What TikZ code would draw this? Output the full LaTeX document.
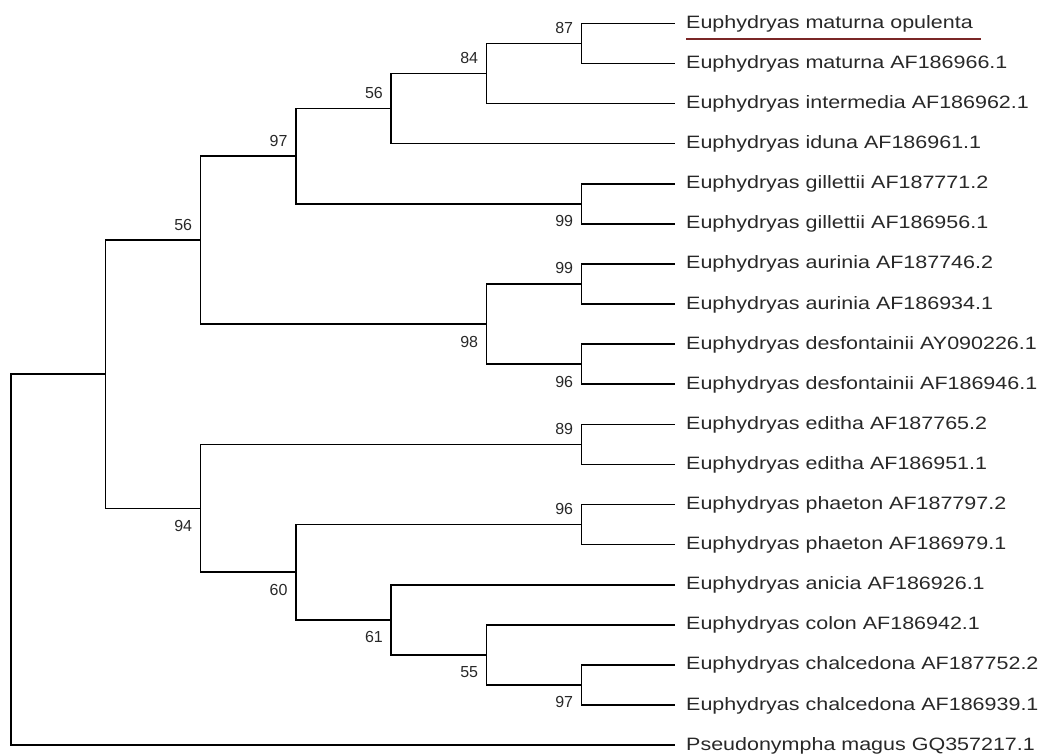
\documentclass[tikz,border=0pt]{standalone}
\usepackage{fontspec}
\setmainfont{Liberation Sans}
\newfontfamily\leaffont[FakeStretch=1.2]{Liberation Sans}
\definecolor{linkred}{RGB}{122,38,38}
\definecolor{textgray}{RGB}{40,40,40}
\tikzset{
  branch/.style={line width=1.6pt, black},
  leaf/.style={anchor=base west, inner sep=0pt, text=textgray,
    font=\leaffont\fontsize{17.9}{20}\selectfont},
  bootup/.style={anchor=east, inner sep=0pt, yshift=15.5pt, xshift=-8pt,
    text=textgray, font=\fontsize{16}{18}\selectfont},
  bootdown/.style={anchor=east, inner sep=0pt, yshift=-17.5pt, xshift=-8pt,
    text=textgray, font=\fontsize{16}{18}\selectfont}
}
\begin{document}
\begin{tikzpicture}[x=1pt, y=-1pt]
                    \useasboundingbox (0,0) rectangle (1043,755);

                    % Marking leaf tips
                    \coordinate (t0) at (675,23.3);
                    \coordinate (t1) at (675,63.4);
                    \coordinate (t2) at (675,103.5);
                    \coordinate (t3) at (675,143.6);
                    \coordinate (t4) at (675,183.7);
                    \coordinate (t5) at (675,223.8);
                    \coordinate (t6) at (675,263.9);
                    \coordinate (t7) at (675,304.0);
                    \coordinate (t8) at (675,344.1);
                    \coordinate (t9) at (675,384.2);
                    \coordinate (t10) at (675,424.3);
                    \coordinate (t11) at (675,464.4);
                    \coordinate (t12) at (675,504.5);
                    \coordinate (t13) at (675,544.6);
                    \coordinate (t14) at (675,584.7);
                    \coordinate (t15) at (675,624.8);
                    \coordinate (t16) at (675,664.9);
                    \coordinate (t17) at (675,705.0);
                    \coordinate (t18) at (675,745.1);

                    % Marking inner nodes
                    \coordinate (n87) at (581.3,43.35);
                    \coordinate (n84) at (486.3,73.43);
                    \coordinate (n56a) at (391.0,108.5);
                    \coordinate (n99g) at (581.3,203.75);
                    \coordinate (n97) at (295.7,156.1);
                    \coordinate (n99a) at (581.3,283.95);
                    \coordinate (n96d) at (581.3,364.15);
                    \coordinate (n98) at (486.3,324.05);
                    \coordinate (n56b) at (200.3,240.1);
                    \coordinate (n89) at (581.3,444.35);
                    \coordinate (n96p) at (581.3,524.55);
                    \coordinate (n97c) at (581.3,684.95);
                    \coordinate (n55) at (486.3,654.9);
                    \coordinate (n61) at (391.0,619.8);
                    \coordinate (n60) at (295.7,572.2);
                    \coordinate (n94) at (200.3,508.3);
                    \coordinate (n1) at (105.3,374.2);
                    \coordinate (root) at (10.7,559.65);

                    % Drawing branches
                    \draw [branch] (n87) |- (t0);
                    \draw [branch] (n87) |- (t1);
                    \draw [branch] (n84) |- (n87);
                    \draw [branch] (n84) |- (t2);
                    \draw [branch] (n56a) |- (n84);
                    \draw [branch] (n56a) |- (t3);
                    \draw [branch] (n99g) |- (t4);
                    \draw [branch] (n99g) |- (t5);
                    \draw [branch] (n97) |- (n56a);
                    \draw [branch] (n97) |- (n99g);
                    \draw [branch] (n99a) |- (t6);
                    \draw [branch] (n99a) |- (t7);
                    \draw [branch] (n96d) |- (t8);
                    \draw [branch] (n96d) |- (t9);
                    \draw [branch] (n98) |- (n99a);
                    \draw [branch] (n98) |- (n96d);
                    \draw [branch] (n56b) |- (n97);
                    \draw [branch] (n56b) |- (n98);
                    \draw [branch] (n89) |- (t10);
                    \draw [branch] (n89) |- (t11);
                    \draw [branch] (n96p) |- (t12);
                    \draw [branch] (n96p) |- (t13);
                    \draw [branch] (n97c) |- (t16);
                    \draw [branch] (n97c) |- (t17);
                    \draw [branch] (n55) |- (t15);
                    \draw [branch] (n55) |- (n97c);
                    \draw [branch] (n61) |- (t14);
                    \draw [branch] (n61) |- (n55);
                    \draw [branch] (n60) |- (n96p);
                    \draw [branch] (n60) |- (n61);
                    \draw [branch] (n94) |- (n89);
                    \draw [branch] (n94) |- (n60);
                    \draw [branch] (n1) |- (n56b);
                    \draw [branch] (n1) |- (n94);
                    \draw [branch] (root) |- (n1);
                    \draw [branch] (root) |- (t18);

                    % Marking bootstrap values
                    \node [bootup] (b87) at (n87) {87};
                    \node [bootup] (b84) at (n84) {84};
                    \node [bootup] (b56a) at (n56a) {56};
                    \node [bootup] (b97) at (n97) {97};
                    \node [bootup] (b56b) at (n56b) {56};
                    \node [bootdown] (b99g) at (n99g) {99};
                    \node [bootup] (b99a) at (n99a) {99};
                    \node [bootdown] (b98) at (n98) {98};
                    \node [bootdown] (b96d) at (n96d) {96};
                    \node [bootup] (b89) at (n89) {89};
                    \node [bootup] (b96p) at (n96p) {96};
                    \node [bootdown] (b94) at (n94) {94};
                    \node [bootdown] (b60) at (n60) {60};
                    \node [bootdown] (b61) at (n61) {61};
                    \node [bootdown] (b55) at (n55) {55};
                    \node [bootdown] (b97c) at (n97c) {97};

                    % Marking taxa
                    \node [leaf] (l0) at ([xshift=11pt,yshift=-5pt]t0) {Euphydryas maturna opulenta};
                    \node [leaf] (l1) at ([xshift=11pt,yshift=-5pt]t1) {Euphydryas maturna AF186966.1};
                    \node [leaf] (l2) at ([xshift=11pt,yshift=-5pt]t2) {Euphydryas intermedia AF186962.1};
                    \node [leaf] (l3) at ([xshift=11pt,yshift=-5pt]t3) {Euphydryas iduna AF186961.1};
                    \node [leaf] (l4) at ([xshift=11pt,yshift=-5pt]t4) {Euphydryas gillettii AF187771.2};
                    \node [leaf] (l5) at ([xshift=11pt,yshift=-5pt]t5) {Euphydryas gillettii AF186956.1};
                    \node [leaf] (l6) at ([xshift=11pt,yshift=-5pt]t6) {Euphydryas aurinia AF187746.2};
                    \node [leaf] (l7) at ([xshift=11pt,yshift=-5pt]t7) {Euphydryas aurinia AF186934.1};
                    \node [leaf] (l8) at ([xshift=11pt,yshift=-5pt]t8) {Euphydryas desfontainii AY090226.1};
                    \node [leaf] (l9) at ([xshift=11pt,yshift=-5pt]t9) {Euphydryas desfontainii AF186946.1};
                    \node [leaf] (l10) at ([xshift=11pt,yshift=-5pt]t10) {Euphydryas editha AF187765.2};
                    \node [leaf] (l11) at ([xshift=11pt,yshift=-5pt]t11) {Euphydryas editha AF186951.1};
                    \node [leaf] (l12) at ([xshift=11pt,yshift=-5pt]t12) {Euphydryas phaeton AF187797.2};
                    \node [leaf] (l13) at ([xshift=11pt,yshift=-5pt]t13) {Euphydryas phaeton AF186979.1};
                    \node [leaf] (l14) at ([xshift=11pt,yshift=-5pt]t14) {Euphydryas anicia AF186926.1};
                    \node [leaf] (l15) at ([xshift=11pt,yshift=-5pt]t15) {Euphydryas colon AF186942.1};
                    \node [leaf] (l16) at ([xshift=11pt,yshift=-5pt]t16) {Euphydryas chalcedona AF187752.2};
                    \node [leaf] (l17) at ([xshift=11pt,yshift=-5pt]t17) {Euphydryas chalcedona AF186939.1};
                    \node [leaf] (l18) at ([xshift=11pt,yshift=-5pt]t18) {Pseudonympha magus GQ357217.1};

                    % Drawing underline of l0
                    \draw [line width=2.4pt, linkred] ([yshift=-10.5pt]l0.base west) -- ([yshift=-10.5pt,xshift=8pt]l0.base east);
\end{tikzpicture}
\end{document}
